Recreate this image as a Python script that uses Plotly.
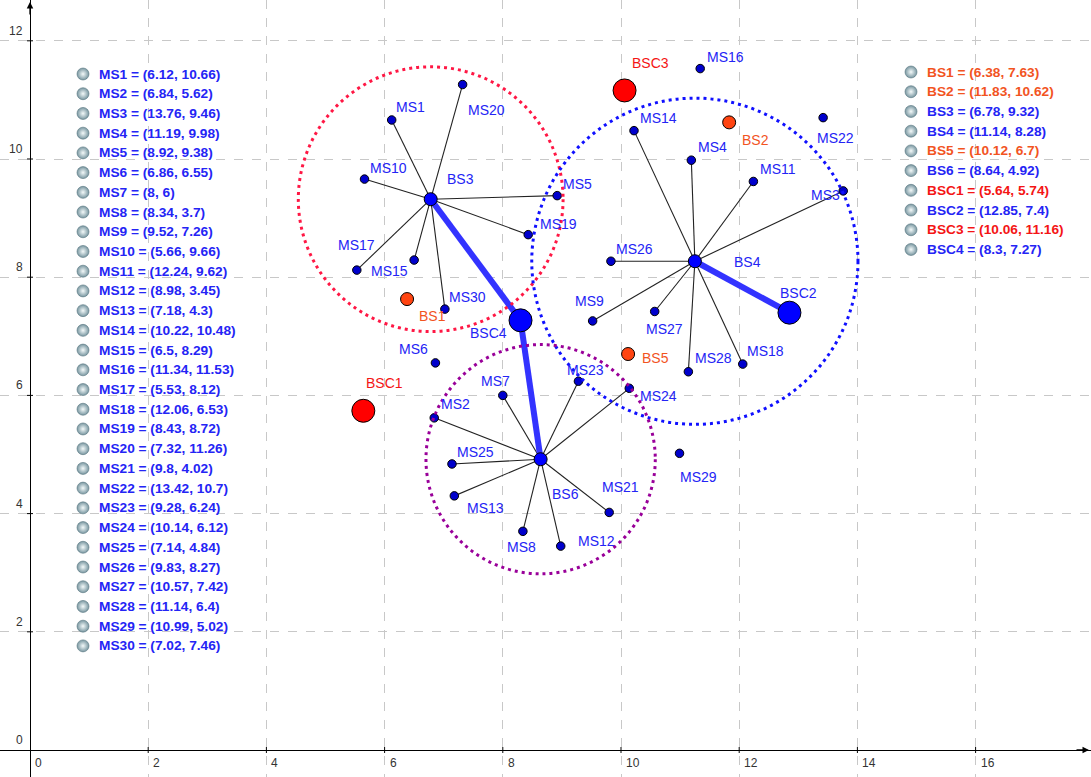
import plotly.graph_objects as go

# ---------------- data ----------------
ms_names = [f"MS{i}" for i in range(1, 31)]
ms_x = [6.12, 6.84, 13.76, 11.19, 8.92, 6.86, 8, 8.34, 9.52, 5.66, 12.24, 8.98, 7.18, 10.22, 6.5,
        11.34, 5.53, 12.06, 8.43, 7.32, 9.8, 13.42, 9.28, 10.14, 7.14, 9.83, 10.57, 11.14, 10.99, 7.02]
ms_y = [10.66, 5.62, 9.46, 9.98, 9.38, 6.55, 6, 3.7, 7.26, 9.66, 9.62, 3.45, 4.3, 10.48, 8.29,
        11.53, 8.12, 6.53, 8.72, 11.26, 4.02, 10.7, 6.24, 6.12, 4.84, 8.27, 7.42, 6.4, 5.02, 7.46]

bs_names = ["BS1", "BS2", "BS3", "BS4", "BS5", "BS6", "BSC1", "BSC2", "BSC3", "BSC4"]
# positions where the stations are drawn
bs_x = [6.38, 11.83, 6.78, 11.25, 10.12, 8.64, 5.64, 12.85, 10.06, 8.3]
bs_y = [7.63, 10.62, 9.32, 8.27, 6.7, 4.92, 5.74, 7.4, 11.16, 7.27]
# values printed in the algebra list on the right
bs_list_x = [6.38, 11.83, 6.78, 11.14, 10.12, 8.64, 5.64, 12.85, 10.06, 8.3]
bs_list_y = [7.63, 10.62, 9.32, 8.28, 6.7, 4.92, 5.74, 7.4, 11.16, 7.27]

bs3_links = ["MS1", "MS20", "MS10", "MS5", "MS19", "MS17", "MS15", "MS30"]
bs4_links = ["MS14", "MS4", "MS11", "MS3", "MS26", "MS9", "MS27", "MS28", "MS18"]
bs6_links = ["MS2", "MS7", "MS23", "MS24", "MS25", "MS13", "MS8", "MS12", "MS21"]
backhaul = [("BS3", "BSC4"), ("BSC4", "BS6"), ("BS4", "BSC2")]

# coverage circle radius around each serving station
cov_names = ["BS3", "BS4", "BS6"]
cov_r = [2.24, 2.76, 1.94]

x_ticks = [0, 2, 4, 6, 8, 10, 12, 14, 16]
y_ticks = [0, 2, 4, 6, 8, 10, 12]

# ---------------- styles ----------------
W, H = 1091, 777
PPU = 59.1          # pixels per unit
X0PX, Y0PX = 30, 750
FONT = "Liberation Sans, Arial, sans-serif"

BLUE = "#0000FF"
MS_FILL = "#0000CC"
ORANGE = "#FF4411"
RED = "#FF0000"
TXT_BLUE = "#2424F5"
TXT_ORANGE = "#F2541F"
TXT_RED = "#F41515"

bs_style = {
    "BS1": (ORANGE, 13, TXT_ORANGE), "BS2": (ORANGE, 13, TXT_ORANGE), "BS5": (ORANGE, 13, TXT_ORANGE),
    "BS3": (BLUE, 13, TXT_BLUE), "BS4": (BLUE, 13, TXT_BLUE), "BS6": (BLUE, 13, TXT_BLUE),
    "BSC1": (RED, 23, TXT_RED), "BSC3": (RED, 23, TXT_RED),
    "BSC2": (BLUE, 23, TXT_BLUE), "BSC4": (BLUE, 23, TXT_BLUE),
}
circle_color = {"BS3": "#FF1744", "BS4": "#1010FF", "BS6": "#990099"}

# label offsets in pixels (dx right, dy down)
label_off = {
    "MS1": (19, -13), "MS20": (24, 25), "MS10": (24, -11), "MS5": (20, -12), "MS19": (30, -11),
    "MS17": (0, -25), "MS15": (-25, 11), "MS30": (23, -12), "MS6": (-22, -14), "MS2": (21, -14),
    "MS7": (-7, -14), "MS23": (7, -11), "MS24": (29, 8), "MS25": (24, -12), "MS13": (31, 12),
    "MS21": (11, -25), "MS8": (-1, 16), "MS12": (36, -5), "MS29": (19, 24), "MS28": (25, -14),
    "MS18": (23, -13), "MS27": (10, 18), "MS9": (-3, -20), "MS26": (24, -12), "MS3": (-18, 4),
    "MS11": (25, -12), "MS4": (21, -13), "MS14": (24, -13), "MS22": (12, 20), "MS16": (25, -12),
    "BS1": (25, 17), "BS2": (26, 18), "BS3": (30, -20), "BS4": (53, 1), "BS5": (27, 4),
    "BS6": (25, 35), "BSC1": (21, -28), "BSC2": (9, -20), "BSC3": (26, -27), "BSC4": (-32, 13),
}

xr = [-X0PX / PPU, (W - X0PX) / PPU]
yr = [-(H - Y0PX) / PPU, Y0PX / PPU]


def px2x(px):
    return (px - X0PX) / PPU


def px2y(py):
    return (Y0PX - py) / PPU


pos = {n: (x, y) for n, x, y in zip(ms_names, ms_x, ms_y)}
pos.update({n: (x, y) for n, x, y in zip(bs_names, bs_x, bs_y)})

fig = go.Figure()
shapes = []
annotations = []

# coverage circles
for n, r in zip(cov_names, cov_r):
    cx, cy = pos[n]
    shapes.append(dict(type="circle", xref="x", yref="y", x0=cx - r, x1=cx + r, y0=cy - r, y1=cy + r,
                       line=dict(color=circle_color[n], width=3, dash="3px,4px"), layer="above"))

# axis tick marks
for t in x_ticks[1:]:
    shapes.append(dict(type="line", xref="x", yref="y", x0=t, x1=t, y0=-3 / PPU, y1=3 / PPU,
                       line=dict(color="black", width=1)))
for t in y_ticks[1:]:
    shapes.append(dict(type="line", xref="x", yref="y", y0=t, y1=t, x0=-3 / PPU, x1=3 / PPU,
                       line=dict(color="black", width=1)))

# links BS -> MS
lx, ly = [], []
for bs, links in (("BS3", bs3_links), ("BS4", bs4_links), ("BS6", bs6_links)):
    for m in links:
        lx += [pos[bs][0], pos[m][0], None]
        ly += [pos[bs][1], pos[m][1], None]
fig.add_trace(go.Scatter(x=lx, y=ly, mode="lines", line=dict(color="#222222", width=1.1),
                         hoverinfo="skip"))

# backhaul
bx, by = [], []
for a, b in backhaul:
    bx += [pos[a][0], pos[b][0], None]
    by += [pos[a][1], pos[b][1], None]
fig.add_trace(go.Scatter(x=bx, y=by, mode="lines", line=dict(color="#3333FF", width=6),
                         hoverinfo="skip"))

# MS points
fig.add_trace(go.Scatter(x=ms_x, y=ms_y, mode="markers",
                         marker=dict(size=8.5, color=MS_FILL, opacity=1,
                                     line=dict(color="black", width=1)),
                         hoverinfo="skip"))
# BS points
fig.add_trace(go.Scatter(x=bs_x, y=bs_y, mode="markers",
                         marker=dict(size=[bs_style[n][1] for n in bs_names],
                                     color=[bs_style[n][0] for n in bs_names], opacity=1,
                                     line=dict(color="black", width=1)),
                         hoverinfo="skip"))

# point labels
for n in ms_names + bs_names:
    dx, dy = label_off[n]
    col = TXT_BLUE if n.startswith("MS") else bs_style[n][2]
    annotations.append(dict(x=pos[n][0], y=pos[n][1], xref="x", yref="y", text=n, showarrow=False,
                            xshift=dx, yshift=-dy, xanchor="center", yanchor="middle",
                            font=dict(family=FONT, size=14, color=col)))

# tick labels
for t in x_ticks:
    annotations.append(dict(x=t, y=0, xref="x", yref="y", text=str(t), showarrow=False,
                            xanchor="left", yanchor="top", xshift=3, yshift=-4,
                            font=dict(family=FONT, size=12, color="#333333")))
for t in y_ticks:
    annotations.append(dict(x=0, y=t, xref="x", yref="y", text=str(t), showarrow=False,
                            xanchor="right", yanchor="bottom", xshift=-5, yshift=1,
                            font=dict(family=FONT, size=12, color="#333333")))

# axis arrows
annotations.append(dict(x=0, y=yr[1] - 2 / PPU, ax=0, ay=14, xref="x", yref="y", showarrow=True,
                        arrowhead=2, arrowsize=1, arrowwidth=1.3, arrowcolor="black", text=""))
annotations.append(dict(x=xr[1] - 2 / PPU, y=0, ax=-14, ay=0, xref="x", yref="y", showarrow=True,
                        arrowhead=2, arrowsize=1, arrowwidth=1.3, arrowcolor="black", text=""))


# algebra lists (left: MS, right: BS)
def fmt(v):
    return f"{v:.2f}".rstrip("0").rstrip(".")


LEFT_ICON_X, LEFT_TEXT_X, LEFT_Y0 = 83, 97, 74
RIGHT_ICON_X, RIGHT_TEXT_X, RIGHT_Y0 = 911, 925, 72
ROW = 19.72

icon_x, icon_y = [], []
for i, n in enumerate(ms_names):
    py = LEFT_Y0 + i * ROW
    icon_x.append(px2x(LEFT_ICON_X)); icon_y.append(px2y(py))
    annotations.append(dict(x=px2x(LEFT_TEXT_X), y=px2y(py), xref="x", yref="y", showarrow=False,
                            text=f"<b>{n} = ({fmt(ms_x[i])}, {fmt(ms_y[i])})</b>",
                            xanchor="left", yanchor="middle",
                            font=dict(family=FONT, size=13.7, color=TXT_BLUE)))
for i, n in enumerate(bs_names):
    py = RIGHT_Y0 + i * ROW
    icon_x.append(px2x(RIGHT_ICON_X)); icon_y.append(px2y(py))
    annotations.append(dict(x=px2x(RIGHT_TEXT_X), y=px2y(py), xref="x", yref="y", showarrow=False,
                            text=f"<b>{n} = ({fmt(bs_list_x[i])}, {fmt(bs_list_y[i])})</b>",
                            xanchor="left", yanchor="middle",
                            font=dict(family=FONT, size=13.7, color=bs_style[n][2])))
fig.add_trace(go.Scatter(x=icon_x, y=icon_y, mode="markers",
                         marker=dict(size=12, color="#7896A0", opacity=1,
                                     gradient=dict(type="radial", color="#F4FAFA"),
                                     line=dict(color="#58767F", width=0.6)),
                         hoverinfo="skip"))

fig.update_layout(
    width=W, height=H, margin=dict(l=0, r=0, t=0, b=0), autosize=False,
    paper_bgcolor="white", plot_bgcolor="white", showlegend=False,
    shapes=shapes, annotations=annotations,
    xaxis=dict(range=xr, showticklabels=False, ticks="", dtick=2, tick0=0, showgrid=True,
               gridcolor="#C8C8C8", griddash="dash", gridwidth=1, zeroline=True,
               zerolinecolor="black", zerolinewidth=1.3, fixedrange=True),
    yaxis=dict(range=yr, showticklabels=False, ticks="", dtick=2, tick0=0, showgrid=True,
               gridcolor="#C8C8C8", griddash="dash", gridwidth=1, zeroline=True,
               zerolinecolor="black", zerolinewidth=1.3, fixedrange=True),
)

fig.write_html("out.html", config={"displayModeBar": False},
               post_script="document.body.style.margin='0';")
